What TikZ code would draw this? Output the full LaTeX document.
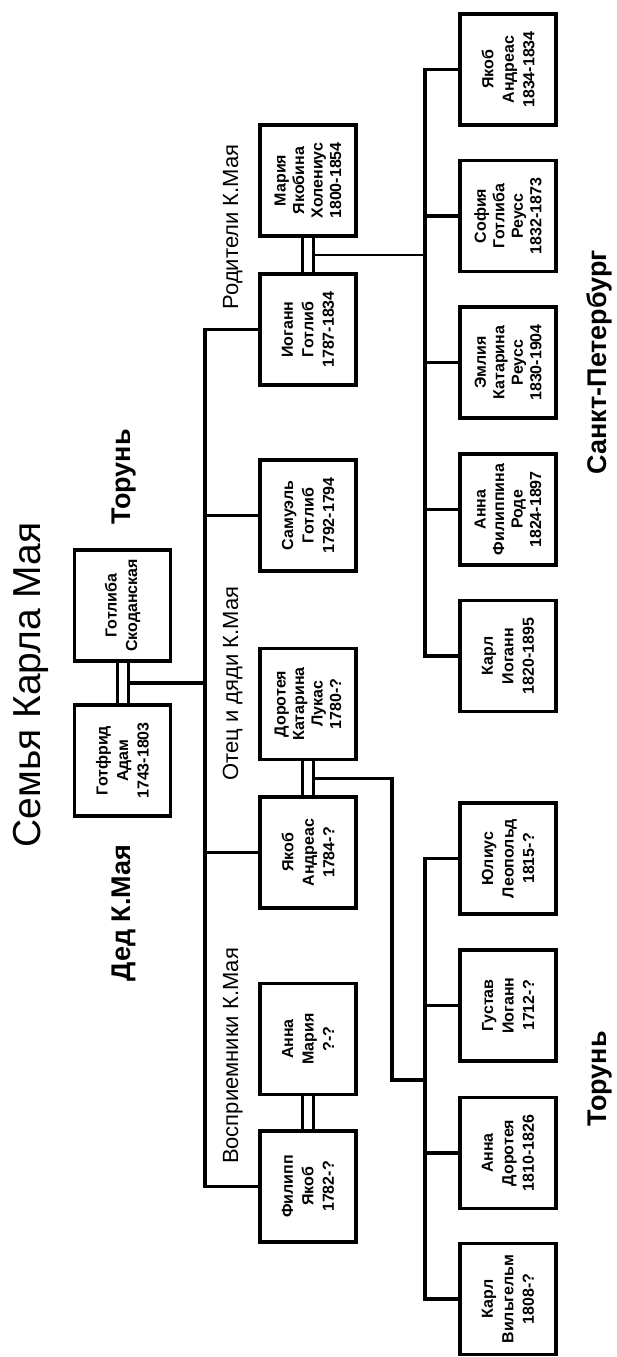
\documentclass[tikz,border=0pt]{standalone}
\usepackage{fontspec}
\setmainfont{Liberation Sans}
\usetikzlibrary{calc}
\tikzset{
  pbox/.style={draw, line width=3.5pt, rotate=90, minimum width=111pt, minimum height=96pt,
    inner sep=0pt, align=center, font=\bfseries\fontsize{16}{20.5}\selectfont},
  pbox4/.style={pbox, font=\bfseries\fontsize{16}{18.5}\selectfont},
  tline/.style={line width=3.5pt, line join=miter},
  mline/.style={line width=3pt},
  cline/.style={line width=2.5pt, line join=miter},
  title/.style={rotate=90, anchor=base, font=\fontsize{39}{44}\selectfont},
  place/.style={rotate=90, anchor=base, font=\bfseries\fontsize{27}{30}\selectfont},
  group/.style={rotate=90, anchor=base, font=\fontsize{22}{26}\selectfont},
}
\begin{document}
\begin{tikzpicture}[x=1pt,y=-1pt]
\useasboundingbox (0,0) rectangle (616,1357);
% grandparents
\node[pbox] (gottliba) at (122.5,605.5) {Готлиба\\Скоданская};
\node[pbox] (gottfried) at (122.5,760.5) {Готфрид\\Адам\\1743-1803};
% children
\node[pbox4] (mariya) at (308,180.5) {Мария\\Якобина\\Холениус\\1800-1854};
\node[pbox] (iogann) at (308,329.5) {Иоганн\\Готлиб\\1787-1834};
\node[pbox] (samuel) at (308,515.5) {Самуэль\\Готлиб\\1792-1794};
\node[pbox4] (doroteya) at (308,704) {Доротея\\Катарина\\Лукас\\1780-?};
\node[pbox] (yakob) at (308,852.5) {Якоб\\Андреас\\1784-?};
\node[pbox] (annam) at (308,1039) {Анна\\Мария\\?-?};
\node[pbox] (filipp) at (308,1186.5) {Филипп\\Якоб\\1782-?};
% grandchildren, St Petersburg
\node[pbox] (yakobb) at (508,69.5) {Якоб\\Андреас\\1834-1834};
\node[pbox4] (sofiya) at (508,216) {София\\Готлиба\\Реусс\\1832-1873};
\node[pbox4] (emliya) at (508,362.5) {Эмлия\\Катарина\\Реусс\\1830-1904};
\node[pbox4] (annaf) at (508,509.5) {Анна\\Филиппина\\Роде\\1824-1897};
\node[pbox] (karli) at (508,656) {Карл\\Иоганн\\1820-1895};
% grandchildren, Torun
\node[pbox] (yulius) at (508,858.5) {Юлиус\\Леопольд\\1815-?};
\node[pbox] (gustav) at (508,1005.5) {Густав\\Иоганн\\1712-?};
\node[pbox] (annad) at (508,1153) {Анна\\Доротея\\1810-1826};
\node[pbox] (karlw) at (508,1299) {Карл\\Вильгельм\\1808-?};
% helper coordinates
\coordinate (trunk) at (205,0);
\coordinate (barS) at (425,0);
\coordinate (barT) at (425,0);
\coordinate (dbr) at (392,1080);
\coordinate (gm) at ($(gottliba.west)!0.5!(gottfried.east)$);
\coordinate (pm) at ($(mariya.west)!0.5!(iogann.east)$);
\coordinate (dm) at ($(doroteya.west)!0.5!(yakob.east)$);
% marriages
\foreach \a/\b in {gottliba/gottfried, mariya/iogann, doroteya/yakob, annam/filipp}{
  \draw[mline] ([xshift=-5.5pt]\a.west) -- ([xshift=-5.5pt]\b.east);
  \draw[mline] ([xshift=5.5pt]\a.west) -- ([xshift=5.5pt]\b.east);
}
% grandparents to children
\draw[tline] ([xshift=5.5pt]gm) -- (gm -| trunk);
\draw[tline] (iogann.north) -- (iogann.north -| trunk) -- (filipp.north -| trunk) -- (filipp.north);
\draw[tline] (samuel.north) -- (samuel.north -| trunk);
\draw[tline] (yakob.north) -- (yakob.north -| trunk);
% parents to St Petersburg children
\draw[cline] ([xshift=5.5pt]pm) -- (pm -| barS);
\draw[tline] (yakobb.north) -- (yakobb.north -| barS) -- (karli.north -| barS) -- (karli.north);
\foreach \c in {sofiya, emliya, annaf}{
  \draw[tline] (\c.north) -- (\c.north -| barS);
}
% Dorothea & Jakob to Torun children
\draw[tline] ([xshift=5.5pt]dm) -- (dm -| dbr) -- (dbr) -- (dbr -| barT);
\draw[tline] (yulius.north) -- (yulius.north -| barT) -- (karlw.north -| barT) -- (karlw.north);
\foreach \c in {gustav, annad}{
  \draw[tline] (\c.north) -- (\c.north -| barT);
}
% labels
\node[title] (ttl) at (40,685) {Семья Карла Мая};
\node[place] (ded) at (130,913) {Дед К.Мая};
\node[place] (torun1) at (130,477) {Торунь};
\node[group] (rod) at (238,227) {Родители К.Мая};
\node[group] (otec) at (238,683.5) {Отец и дяди К.Мая};
\node[group] (vospr) at (238,1056) {Восприемники К.Мая};
\node[place] (spb) at (606,362) {Санкт-Петербург};
\node[place] (torun2) at (606,1079) {Торунь};
\end{tikzpicture}
\end{document}
